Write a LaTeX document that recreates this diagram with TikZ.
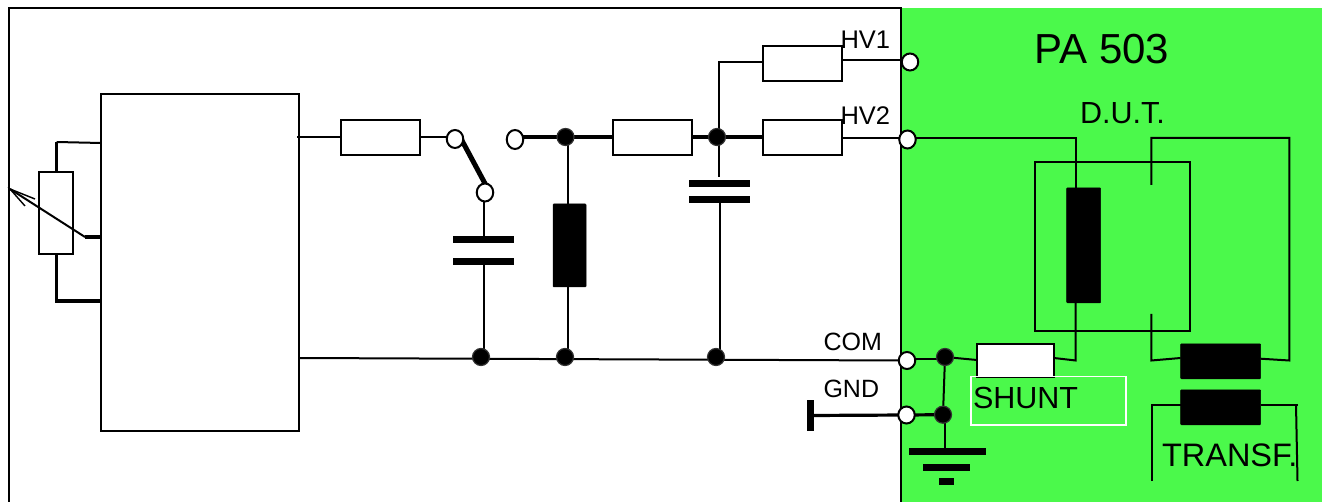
\documentclass[tikz,border=0pt]{standalone}
\usepackage{fontspec}
\setmainfont{Liberation Sans}
\usetikzlibrary{shapes.geometric,backgrounds}
\definecolor{pagreen}{RGB}{75,249,75}
\definecolor{dotgrey}{RGB}{50,50,50}
\tikzset{
  thinw/.style={line width=2pt,black},
  thickw/.style={line width=3.2pt,black},
  res/.style={draw=black,line width=2pt,fill=white,rectangle,inner sep=0pt,outer sep=0pt,minimum width=79pt,minimum height=35pt},
  blackres/.style={draw=black,fill=black,line width=0.5pt,rectangle,rounded corners=0.8pt,inner sep=0pt,outer sep=0pt},
  plate/.style={fill=black,rectangle,inner sep=0pt,outer sep=0pt},
  term/.style={draw=black,line width=2pt,fill=white,ellipse,inner sep=0pt,outer sep=0pt,minimum width=16.5pt,minimum height=18pt},
  jdot/.style={draw=dotgrey,line width=1.2pt,fill=black,circle,inner sep=0pt,outer sep=0pt,minimum size=17pt},
  lab/.style={anchor=base west,inner sep=0pt,outer sep=0pt,text=black},
}
\begin{document}
\begin{tikzpicture}[x=1pt,y=-1pt]
\useasboundingbox (0,0) rectangle (1325,502);
% --- nodes
\node[draw=black,line width=2pt,rectangle,inner sep=0pt,outer sep=0pt,minimum width=198pt,minimum height=337pt] (ctrl) at (200,262.5) {};
\node[draw=black,line width=1.8pt,fill=white,rectangle,inner sep=0pt,outer sep=0pt,minimum width=34pt,minimum height=82pt] (pot) at (56,213) {};
\node[res] (r1) at (380,137.5) {};
\node[res] (r2) at (652,137.5) {};
\node[res] (r3) at (802.5,137.5) {};
\node[res] (r4) at (802.5,63.5) {};
\node[res,minimum width=77pt,minimum height=33pt] (shunt) at (1015.5,360.5) {};
\node[draw=white,line width=1.6pt,rectangle,inner sep=0pt,outer sep=0pt,minimum width=155pt,minimum height=48pt] (shuntbox) at (1048.5,400.7) {};
\node[blackres,minimum width=33pt,minimum height=83pt] (rload) at (569.5,245.5) {};
\node[blackres,minimum width=34pt,minimum height=115pt] (dut) at (1083.7,245.3) {};
\node[blackres,minimum width=80pt,minimum height=35pt] (tp) at (1220.6,361.3) {};
\node[blackres,minimum width=80pt,minimum height=35pt] (ts) at (1220.6,407.3) {};
\node[plate,minimum width=61pt,minimum height=7pt] (c1a) at (483.5,239.5) {};
\node[plate,minimum width=61pt,minimum height=7pt] (c1b) at (483.5,261.5) {};
\node[plate,minimum width=61pt,minimum height=7pt] (c2a) at (719.5,183.5) {};
\node[plate,minimum width=61pt,minimum height=7pt] (c2b) at (719.5,199.5) {};
\node[plate,minimum width=7pt,minimum height=31pt] (gndbar) at (810.5,415.5) {};
\node[plate,minimum width=77pt,minimum height=7pt] (g1) at (947.5,451.5) {};
\node[plate,minimum width=47pt,minimum height=7pt] (g2) at (946.5,467.5) {};
\node[plate,minimum width=15pt,minimum height=7pt] (g3) at (946.5,481.5) {};
\node[term] (sw1) at (455,139) {};
\node[term] (sw2) at (485,192.5) {};
\node[term,minimum height=19pt] (sw3) at (515,139.5) {};
\node[term,minimum height=17pt] (hv1) at (910,62) {};
\node[term] (hv2) at (907.5,139.5) {};
\node[term,minimum height=17pt] (com) at (907,360.5) {};
\node[term,minimum height=17pt] (gnd) at (906.5,415) {};
\node[jdot] (d1) at (565.5,137) {};
\node[jdot] (d2) at (717,137) {};
\node[jdot] (d3) at (481,357) {};
\node[jdot] (d4) at (565,357) {};
\node[jdot] (d5) at (716,357) {};
\node[jdot] (d6) at (945,357) {};
\node[jdot] (d7) at (943,414.7) {};
% --- free ends and corners
\coordinate (frTL) at (9,8.5);
\coordinate (frTR) at (901,8.5);
\coordinate (frBL) at (9,502);
\coordinate (frBR) at (901,502);
\coordinate (potT) at (56.5,142);
\coordinate (potB) at (56.5,301);
\coordinate (wiper) at (85,237);
\coordinate (tip) at (10,189);
\coordinate (tipA) at (35,199);
\coordinate (tipB) at (25,206);
\coordinate (c1) at (718.5,62);
\coordinate (dutL) at (1075.7,138);
\coordinate (secR) at (1151.3,138);
\coordinate (secRR) at (1289.3,138);
\coordinate (secRe) at (1151.3,185);
\coordinate (secLs) at (1151.3,314);
\coordinate (secLc) at (1151.3,360.5);
\coordinate (secBR) at (1289.3,360.5);
\coordinate (dutB) at (1075.7,360.5);
\begin{scope}[on background layer]
\fill[pagreen] (902,8) rectangle (1322,502);
\draw[thinw] (frBL) -- (frTL) -- (frTR) -- (frBR);
% potentiometer
\draw[thickw] (pot.north-|potT) -- (potT);
\draw[thinw] (potT) -- (101,143);
\draw[thickw] (pot.south-|potB) -- (potB) -- (101,301);
\draw[thickw] (wiper) -- (101,237);
% signal line
\draw[thinw] (297,137) -- (341,137);
\draw[thinw] (416,137) -- (sw1.west|-{0,137});
\draw[thickw] (sw3.east|-{0,137}) -- (r2.west|-{0,137});
\draw[thickw] (687,137) -- (r3.west|-{0,137});
\draw[thinw] (718.5,137) -- (c1) -- (766,62);
\draw[thinw] (839,60) -- (hv1.west|-{0,60});
\draw[thinw] (839,138) -- (hv2.west|-{0,138});
\draw[line width=5pt] (461.7,140) -- (486.7,186.7);
\draw[thinw] (484,192) -- (484,236);
\draw[thinw] (484,265) -- (484,357);
\draw[line width=2.4pt] (568,137) -- (568,204);
\draw[line width=2.4pt] (568,287) -- (568,357);
\draw[thinw] (718.5,137) -- (718.5,177);
\draw[line width=2.4pt] (720,203) -- (720,357);
\draw[thinw] (299,358) -- (com.west);
% DUT side
\draw[thinw] (hv2.center|-{0,138}) -- (dutL) -- (dutL|-dut.north);
\draw[thinw] (dut.south-|dutL) -- (dutB) -- (shunt.east|-{0,358});
\draw[thinw] (secRe) -- (secR) -- (secRR) -- (secBR) -- (tp.east|-{0,358.7});
\draw[thinw] (secLs) -- (secLc) -- (tp.west|-{0,358});
\draw[thinw] (1035,162.3) rectangle (1190,330.7);
\draw[thinw] (1151.5,481) -- (1151.5,404.5) -- (ts.west|-{0,404.5});
\draw[thinw] (ts.east|-{0,404.5}) -- (1298,404.5);
\draw[thinw] (1296,404.5) -- (1297.5,481);
% common / ground
\draw[thinw] (com.center|-{0,359}) -- (d6.west|-{0,359});
\draw[thinw] (d6) -- (shunt.west|-{0,360});
\draw[thinw] (d6) -- (d7);
\draw[thinw] (945,414.7) -- (945,449);
\draw[thickw] (gndbar) -- (gnd);
\draw[thickw] (gnd) -- (d7);
\end{scope}
% wiper arrow (over the potentiometer box)
\draw[thinw] (wiper) -- (tip);
\draw[line width=1.4pt] (tipA) -- (tip) -- (tipB);
% --- labels
\node[lab,font=\fontsize{42}{48}\selectfont] (tpa) at (1034.5,64) {PA 503};
\node[lab,font=\fontsize{30.5}{36}\selectfont] (tdut) at (1080,124) {D.U.T.};
\node[lab,font=\fontsize{25.5}{30}\selectfont] (thv1) at (840.5,49) {HV1};
\node[lab,font=\fontsize{25.5}{30}\selectfont] (thv2) at (840.5,125) {HV2};
\node[lab,font=\fontsize{25}{30}\selectfont] (tcom) at (823.5,351) {COM};
\node[lab,font=\fontsize{25}{30}\selectfont] (tgnd) at (823.5,397) {GND};
\node[lab,font=\fontsize{30.5}{36}\selectfont] (tshunt) at (973,408.3) {SHUNT};
\node[lab,font=\fontsize{32.5}{36}\selectfont] (ttransf) at (1162,466.7) {TRANSF.};
\end{tikzpicture}
\end{document}
